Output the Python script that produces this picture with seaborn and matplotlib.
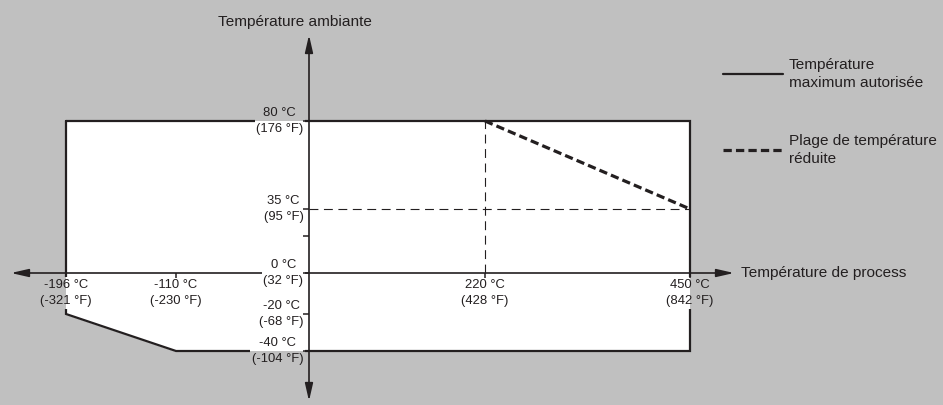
import numpy as np
import matplotlib
matplotlib.use('Agg')
import matplotlib.pyplot as plt
import seaborn as sns

# allowed operating region (process temperature °C, ambient temperature °C)
region_process = [-196, 450, 450, -110, -196, -196]
region_ambient = [80, 80, -40, -40, -20, 80]

# reduced temperature range
reduced_process = [220, 450]
reduced_ambient = [80, 35]

# tick labels
x_ticks_c = [-196, -110, 220, 450]
x_ticks_f = [-321, -230, 428, 842]
y_ticks_c = [80, 35, 0, -20, -40]
y_ticks_f = [176, 95, 32, -68, -104]
y_minor = [20]

legend_labels = ['Température\nmaximum autorisée', 'Plage de température\nréduite']
x_title = 'Température de process'
y_title = 'Température ambiante'

GREY = '#c0c0c0'
INK = '#231f20'
W, H = 943, 405


# the drawing is schematic: axes are piecewise linear, not to scale
def schematic(temps, pos):
    t = np.asarray(temps, float)
    p = np.asarray(pos, float)
    s0 = (p[1] - p[0]) / (t[1] - t[0])
    s1 = (p[-1] - p[-2]) / (t[-1] - t[-2])
    big = 1e4
    tt = np.r_[t[0] - big, t, t[-1] + big]
    pp = np.r_[p[0] - big * s0, p, p[-1] + big * s1]
    return (lambda v: np.interp(v, tt, pp)), (lambda v: np.interp(v, pp, tt))


fx, ix = schematic([-196, -110, 0, 220, 450], [66, 176, 309, 485, 690])
fy, iy = schematic([-40, -20, 0, 20, 35, 80], [54, 91, 132, 169, 196, 284])

sns.set_theme(style='white', rc={'axes.facecolor': GREY, 'figure.facecolor': GREY})
plt.rcParams['font.family'] = ['Liberation Sans', 'DejaVu Sans']

fig = plt.figure(figsize=(W / 100, H / 100), dpi=100)
ax = fig.add_axes([0, 0, 1, 1])
ax.set_xscale('function', functions=(fx, ix))
ax.set_yscale('function', functions=(fy, iy))
ax.set_xlim(float(ix(0)), float(ix(W)))
ax.set_ylim(float(iy(0)), float(iy(H)))
for s in ax.spines.values():
    s.set_visible(False)
ax.set_xticks([])
ax.set_yticks([])

# white region + outline
poly = ax.fill(region_process, region_ambient, color='white', zorder=1)[0]
sns.lineplot(x=region_process, y=region_ambient, sort=False, estimator=None,
             color=INK, lw=1.6, ax=ax, zorder=3)
h_max = ax.lines[-1]
h_max.set_solid_joinstyle('miter')

# reduced range
sns.lineplot(x=reduced_process, y=reduced_ambient, sort=False, estimator=None,
             color=INK, lw=2.3, linestyle=(0, (2.6, 1.3)), ax=ax, zorder=3)
h_red = ax.lines[-1]

# thin guides
ax.vlines(reduced_process[0], 0, reduced_ambient[0], color=INK, lw=0.8,
          linestyles=(0, (8, 5)), zorder=2)
ax.hlines(reduced_ambient[1], 0, reduced_process[1], color=INK, lw=0.8,
          linestyles=(0, (8, 5)), zorder=2)

# axis arrows
arr = dict(arrowstyle='<|-|>,head_length=1.05,head_width=0.24', color=INK,
           lw=1.2, shrinkA=0, shrinkB=0, mutation_scale=10)
ax.annotate('', xy=(11 / W, 0), xytext=(734 / W, 0),
            xycoords=ax.get_yaxis_transform(), arrowprops=arr, zorder=3)
ax.annotate('', xy=(0, 1 - 401 / H), xytext=(0, 1 - 35 / H),
            xycoords=ax.get_xaxis_transform(), arrowprops=arr, zorder=3)


def label(xy, text, offset, ha, va):
    kw = dict(xy=xy, xytext=offset, textcoords='offset points', ha=ha, va=va,
              multialignment='center', fontsize=9.4, linespacing=1.5)
    ax.annotate(text, color='none', zorder=4,
                bbox=dict(boxstyle='square,pad=0.12', fc=GREY, ec='none'), **kw)
    t = ax.annotate(text, color='none', zorder=4.1,
                    bbox=dict(boxstyle='square,pad=0.12', fc='white', ec='none'), **kw)
    t.set_clip_path(poly)
    ax.annotate(text, color=INK, zorder=5, **kw)


for c, f in zip(x_ticks_c, x_ticks_f):
    label((c, 0), f'{c} °C\n({f} °F)', (0, -4), 'center', 'top')
for c, f in zip(y_ticks_c, y_ticks_f):
    label((0, c), f'{c} °C\n({f} °F)', (-4, 0), 'right', 'center')

# tick marks
ax.plot(x_ticks_c[1:], [0] * len(x_ticks_c[1:]), ls='none', marker=3, ms=3.6,
        mew=1.1, color=INK, zorder=6)
y_all = y_ticks_c + y_minor
ax.plot([0] * len(y_all), y_all, ls='none', marker=0, ms=4.3, mew=1.1,
        color=INK, zorder=6)

# titles
ax.annotate(x_title, xy=(741 / W, 0), xycoords=ax.get_yaxis_transform(),
            ha='left', va='center', fontsize=11.1, color=INK)
fig.text(295 / W, 1 - 22 / H, y_title, ha='center', va='center',
         fontsize=11.1, color=INK)

leg = ax.legend([h_max, h_red], legend_labels, loc='upper left',
                bbox_to_anchor=(723 / W, 1 - 58 / H), bbox_transform=fig.transFigure,
                frameon=False, handlelength=3.9, handletextpad=0.35, labelspacing=2.85,
                borderpad=0, borderaxespad=0, fontsize=11.1, labelcolor=INK)
for t in leg.get_texts():
    t.set_linespacing(1.35)

fig.savefig('out.png', dpi=100, facecolor=GREY)
